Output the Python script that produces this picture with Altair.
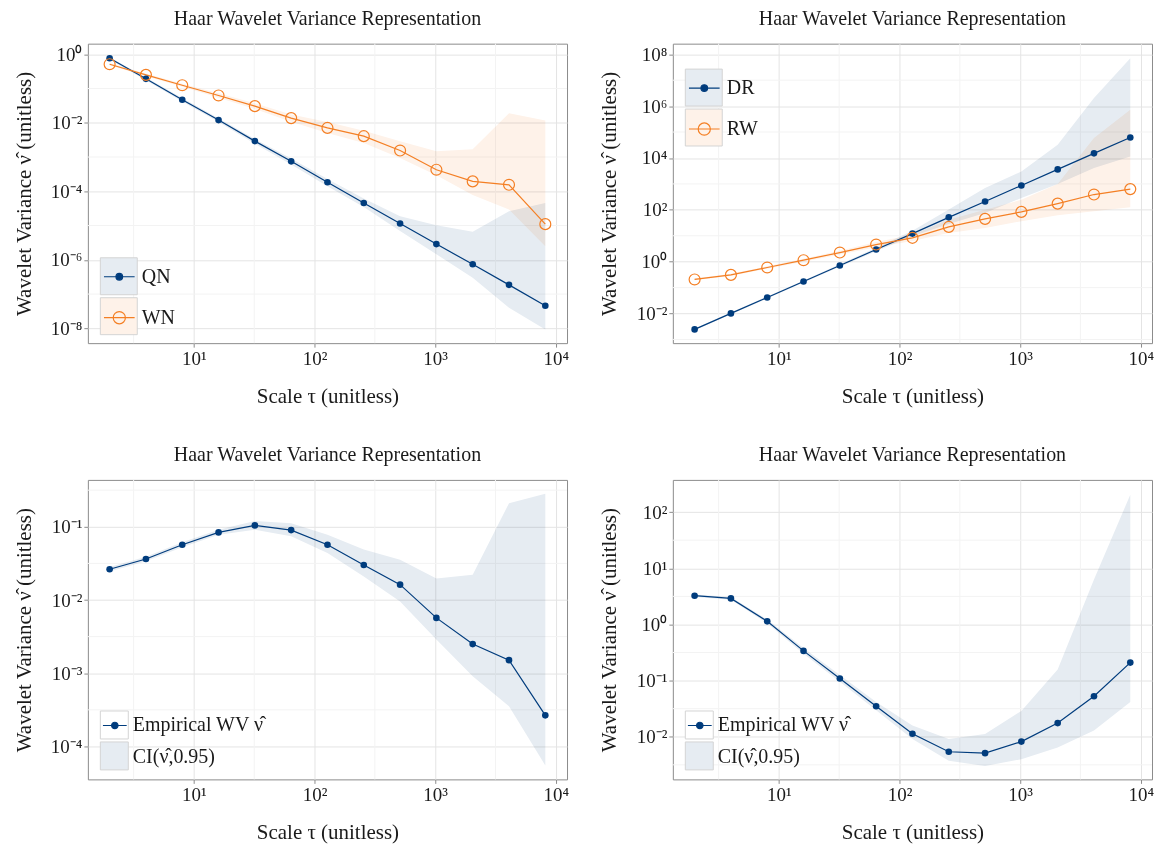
import altair as alt
import pandas as pd

# ---------------- data ----------------
TAU = [2, 4, 8, 16, 32, 64, 128, 256, 512, 1024, 2048, 4096, 8192]

# Panel 1: QN / WN
QN_WV = [0.766, 0.192, 0.047, 0.012, 0.00292, 0.00075, 0.000184, 4.57e-5, 1.15e-5, 2.88e-6, 7.41e-7, 1.86e-7, 4.57e-8]
QN_LO = [0.708, 0.174, 0.0417, 0.0105, 0.00245, 0.000603, 0.000141, 3.47e-5, 6.92e-6, 1.45e-6, 3.02e-7, 3.98e-8, 9.3e-9]
QN_HI = [0.822, 0.209, 0.0525, 0.0135, 0.00339, 0.000912, 0.000229, 6.17e-5, 1.86e-5, 1.02e-5, 6.6e-6, 2.63e-5, 4.57e-5]
WN_WV = [0.512, 0.251, 0.125, 0.0627, 0.0306, 0.0137, 0.00708, 0.00407, 0.00155, 0.000427, 0.000195, 0.000155, 1.1e-5]
WN_LO = [0.479, 0.229, 0.112, 0.0537, 0.0251, 0.0107, 0.00501, 0.00257, 0.000933, 0.000295, 7.76e-5, 2.95e-5, 2.5e-6]
WN_HI = [0.55, 0.275, 0.138, 0.0724, 0.0372, 0.0174, 0.0105, 0.00589, 0.00288, 0.00148, 0.0017, 0.0191, 0.0117]

# Panel 2: DR / RW
DR_WV = [0.00244, 0.0101, 0.0417, 0.172, 0.711, 2.94, 12.1, 51.3, 209, 871, 3630, 15100, 61700]
DR_LO = [0.00224, 0.00933, 0.038, 0.158, 0.631, 2.51, 9.55, 28.2, 75.9, 288, 1000, 4070, 11500]
DR_HI = [0.00263, 0.011, 0.0457, 0.186, 0.794, 3.47, 15.5, 102, 692, 3020, 32400, 2.04e6, 7.08e7]
RW_WV = [0.206, 0.309, 0.596, 1.14, 2.25, 4.58, 8.32, 21.9, 44.7, 83.2, 174, 389, 631]
RW_LO = [0.191, 0.282, 0.537, 1.0, 1.91, 3.63, 6.31, 12.9, 20, 36.3, 61.7, 89.1, 126]
RW_HI = [0.224, 0.339, 0.661, 1.29, 2.63, 5.75, 11.0, 41.7, 100, 245, 1000, 58900, 724000]

# Panel 3: empirical WV
E3_WV = [0.0263, 0.0363, 0.0569, 0.0839, 0.1045, 0.0902, 0.0569, 0.0301, 0.0162, 0.0057, 0.0025, 0.00151, 0.000266]
E3_LO = [0.0245, 0.0339, 0.0525, 0.0776, 0.0912, 0.0741, 0.0437, 0.0209, 0.00955, 0.00288, 0.000912, 0.000355, 5.5e-5]
E3_HI = [0.0282, 0.0389, 0.0617, 0.0912, 0.120, 0.112, 0.0776, 0.049, 0.0355, 0.0196, 0.0222, 0.21, 0.282]

# Panel 4: empirical WV
E4_WV = [3.25, 2.91, 1.135, 0.338, 0.109, 0.035, 0.0113, 0.0054, 0.0051, 0.0082, 0.0175, 0.0527, 0.209]
E4_LO = [3.09, 2.75, 1.05, 0.302, 0.0955, 0.0295, 0.00912, 0.00372, 0.00302, 0.00398, 0.00646, 0.0129, 0.0417]
E4_HI = [3.43, 3.09, 1.23, 0.38, 0.126, 0.0417, 0.0158, 0.00912, 0.0112, 0.0288, 0.158, 6.31, 204]

# axes
X_DOMAIN = [1.32, 12400]
X_MAJOR = [10, 100, 1000, 10000]
X_LABELS = ["10¹", "10²", "10³", "10⁴"]
X_MINOR = [3.162, 31.62, 316.2, 3162]

P1_YDOM = [3.7e-9, 2.04]
P1_YMAJOR = [1e-8, 1e-6, 1e-4, 1e-2, 1]
P1_YLABELS = ["10⁻⁸", "10⁻⁶", "10⁻⁴", "10⁻²", "10⁰"]
P1_YMINOR = [1e-7, 1e-5, 1e-3, 0.1]

P2_YDOM = [7.2e-4, 2.57e8]
P2_YMAJOR = [1e-2, 1, 1e2, 1e4, 1e6, 1e8]
P2_YLABELS = ["10⁻²", "10⁰", "10²", "10⁴", "10⁶", "10⁸"]
P2_YMINOR = [1e-3, 0.1, 10, 1e3, 1e5, 1e7]

P3_YDOM = [3.55e-5, 0.437]
P3_YMAJOR = [1e-4, 1e-3, 1e-2, 1e-1]
P3_YLABELS = ["10⁻⁴", "10⁻³", "10⁻²", "10⁻¹"]
P3_YMINOR = [3.162e-4, 3.162e-3, 3.162e-2, 0.3162]

P4_YDOM = [1.74e-3, 375]
P4_YMAJOR = [1e-2, 1e-1, 1, 10, 100]
P4_YLABELS = ["10⁻²", "10⁻¹", "10⁰", "10¹", "10²"]
P4_YMINOR = [3.162e-3, 3.162e-2, 0.3162, 3.162, 31.62]

# ---------------- style ----------------
NAVY = "#003C7D"
ORANGE = "#F47F24"
NAVY_BAND = "#e6ecf2"     # navy at 10% over white
ORANGE_BAND = "#fef2e9"   # orange at 10% over white
FONT = "Liberation Serif"
TXT = "#1a1a1a"
TITLE = "Haar Wavelet Variance Representation"
X_TITLE = "Scale τ (unitless)"
Y_TITLE = "Wavelet Variance ν̂ (unitless)"
EMP = "Empirical WV ν̂"
CI = "CI(ν̂,0.95)"
ZW = "\u200b"
W, H = 480, 300


def label_expr(values, labels):
    expr = "''"
    for v, lab in reversed(list(zip(values, labels))):
        expr = f"abs(datum.value / {v!r} - 1) < 1e-6 ? '{lab}' : " + expr
    return expr


def key_path(line, r):
    s = "M-1,-1M1,1"
    if line:
        s += f"M-{line},0L{line},0"
    if r:
        s += f"M{r},0A{r},{r} 0 1,1 -{r},0A{r},{r} 0 1,1 {r},0Z"
    return s


def make_df(series_name, band_name, wv, lo, hi):
    return pd.DataFrame({"tau": TAU, "series": series_name, "band": band_name,
                         "wv": wv, "lo": lo, "hi": hi})


def panel(df, lines, points, bands, band_colors, fg_names, fg_paths, fg_strokes,
          fg_fills, ydom, ymaj, ylab, ymin, key, lxy):
    xs = alt.Scale(type="log", domain=X_DOMAIN, nice=False)
    ys = alt.Scale(type="log", domain=ydom, nice=False)
    xa = alt.Axis(values=X_MAJOR, labelExpr=label_expr(X_MAJOR, X_LABELS), title=X_TITLE,
                  grid=True, minExtent=26, maxExtent=26, titlePadding=16)
    ya = alt.Axis(values=ymaj, labelExpr=label_expr(ymaj, ylab), title=Y_TITLE,
                  grid=True, minExtent=44, maxExtent=44, titlePadding=9)

    def X(f):
        return alt.X(f, type="quantitative", scale=xs, axis=xa)

    def Y(f):
        return alt.Y(f, type="quantitative", scale=ys, axis=ya)

    common_leg = dict(orient="none", legendX=lxy[0], legendY=lxy[1], direction="vertical",
                      title=None, symbolSize=key * key, labelFont=FONT, labelFontSize=20,
                      labelOffset=3, rowPadding=-4, padding=0, symbolOffset=0)
    bg_leg = alt.Legend(symbolType="square", symbolStrokeColor="#d4d4d4", symbolStrokeWidth=1,
                        labelColor="transparent", zindex=1, **common_leg)
    fg_leg = alt.Legend(symbolStrokeWidth=1.2, labelColor=TXT, zindex=2, symbolOpacity=1,
                        symbolFillColor="transparent", symbolStrokeColor="transparent", **common_leg)

    minor_x = alt.Chart(pd.DataFrame({"m": X_MINOR})).mark_rule(
        color="#f3f3f3", strokeWidth=1).encode(x=X("m"))
    minor_y = alt.Chart(pd.DataFrame({"m": ymin})).mark_rule(
        color="#f3f3f3", strokeWidth=1).encode(y=Y("m"))

    area = alt.Chart(df).mark_area(interpolate="linear", blend="multiply").encode(
        x=X("tau"), y=Y("lo"), y2="hi",
        color=alt.Color("band:N", scale=alt.Scale(domain=bands, range=band_colors), legend=bg_leg))

    layers = [minor_x, minor_y, area]
    for name, col in lines:
        layers.append(alt.Chart(df).transform_filter(alt.datum.series == name)
                      .mark_line(color=col, strokeWidth=1.2).encode(x=X("tau"), y=Y("wv")))
    for name, col, filled, size in points:
        layers.append(alt.Chart(df).transform_filter(alt.datum.series == name)
                      .mark_point(shape="circle", filled=filled, color=col, size=size,
                                  strokeWidth=1.2, opacity=1)
                      .encode(x=X("tau"), y=Y("wv")))

    dummy = alt.Chart(df).mark_point(size=0, opacity=1).encode(
        x=X("tau"), y=Y("wv"),
        shape=alt.Shape("series:N", scale=alt.Scale(domain=fg_names, range=fg_paths), legend=fg_leg),
        stroke=alt.Stroke("series:N", scale=alt.Scale(domain=fg_names, range=fg_strokes), legend=fg_leg),
        fill=alt.Fill("series:N", scale=alt.Scale(domain=fg_names, range=fg_fills), legend=fg_leg),
    )
    layers.append(dummy)

    return alt.layer(*layers).properties(
        width=W, height=H,
        title=alt.TitleParams(TITLE, font=FONT, fontSize=20, fontWeight="normal", color=TXT,
                              anchor="middle", frame="group", offset=14))


df1 = pd.concat([make_df("QN", "QN" + ZW, QN_WV, QN_LO, QN_HI),
                 make_df("WN", "WN" + ZW, WN_WV, WN_LO, WN_HI)])
df2 = pd.concat([make_df("DR", "DR" + ZW, DR_WV, DR_LO, DR_HI),
                 make_df("RW", "RW" + ZW, RW_WV, RW_LO, RW_HI)])
df3 = make_df(EMP, CI + ZW, E3_WV, E3_LO, E3_HI)
df4 = make_df(EMP, CI + ZW, E4_WV, E4_LO, E4_HI)

two_paths = [key_path(0.83, 0.18), key_path(0.83, 0.33)]
p1 = panel(df1, [("QN", NAVY), ("WN", ORANGE)],
           [("QN", NAVY, True, 44), ("WN", ORANGE, False, 120)],
           ["QN" + ZW, "WN" + ZW], [NAVY_BAND, ORANGE_BAND],
           ["QN", "WN"], two_paths, [NAVY, ORANGE], [NAVY, "transparent"],
           P1_YDOM, P1_YMAJOR, P1_YLABELS, P1_YMINOR, 37, (12, 214))
p2 = panel(df2, [("DR", NAVY), ("RW", ORANGE)],
           [("DR", NAVY, True, 44), ("RW", ORANGE, False, 120)],
           ["DR" + ZW, "RW" + ZW], [NAVY_BAND, ORANGE_BAND],
           ["DR", "RW"], two_paths, [NAVY, ORANGE], [NAVY, "transparent"],
           P2_YDOM, P2_YMAJOR, P2_YLABELS, P2_YMINOR, 37, (12, 25))

emp_paths = [key_path(0.85, 0.23), key_path(0, 0)]
p3 = panel(df3, [(EMP, NAVY)], [(EMP, NAVY, True, 44)],
           [EMP + ZW, CI + ZW], ["white", NAVY_BAND],
           [EMP, CI], emp_paths, [NAVY, "transparent"], [NAVY, "transparent"],
           P3_YDOM, P3_YMAJOR, P3_YLABELS, P3_YMINOR, 28, (12, 231))
p4 = panel(df4, [(EMP, NAVY)], [(EMP, NAVY, True, 44)],
           [EMP + ZW, CI + ZW], ["white", NAVY_BAND],
           [EMP, CI], emp_paths, [NAVY, "transparent"], [NAVY, "transparent"],
           P4_YDOM, P4_YMAJOR, P4_YLABELS, P4_YMINOR, 28, (12, 231))

IND = dict(color="independent", shape="independent", stroke="independent", fill="independent")

row1 = alt.hconcat(p1, p2, spacing=28).resolve_scale(**IND).resolve_legend(**IND)
row2 = alt.hconcat(p3, p4, spacing=28).resolve_scale(**IND).resolve_legend(**IND)

chart = alt.vconcat(row1, row2, spacing=38).resolve_scale(**IND).resolve_legend(**IND).properties(
    padding={"left": 5, "top": 0, "right": 0, "bottom": 0}
).configure_view(
    stroke="#8c8c8c", strokeWidth=1
).configure_axis(
    labelFont=FONT, labelFontSize=19, labelColor=TXT, labelPadding=2,
    titleFont=FONT, titleFontSize=21, titleFontWeight="normal", titleColor=TXT,
    domain=False, tickColor="#8c8c8c", tickSize=4, tickWidth=1,
    gridColor="#e4e4e4", gridWidth=1
)

chart.save("out.html", embed_options={"renderer": "svg", "actions": False})
